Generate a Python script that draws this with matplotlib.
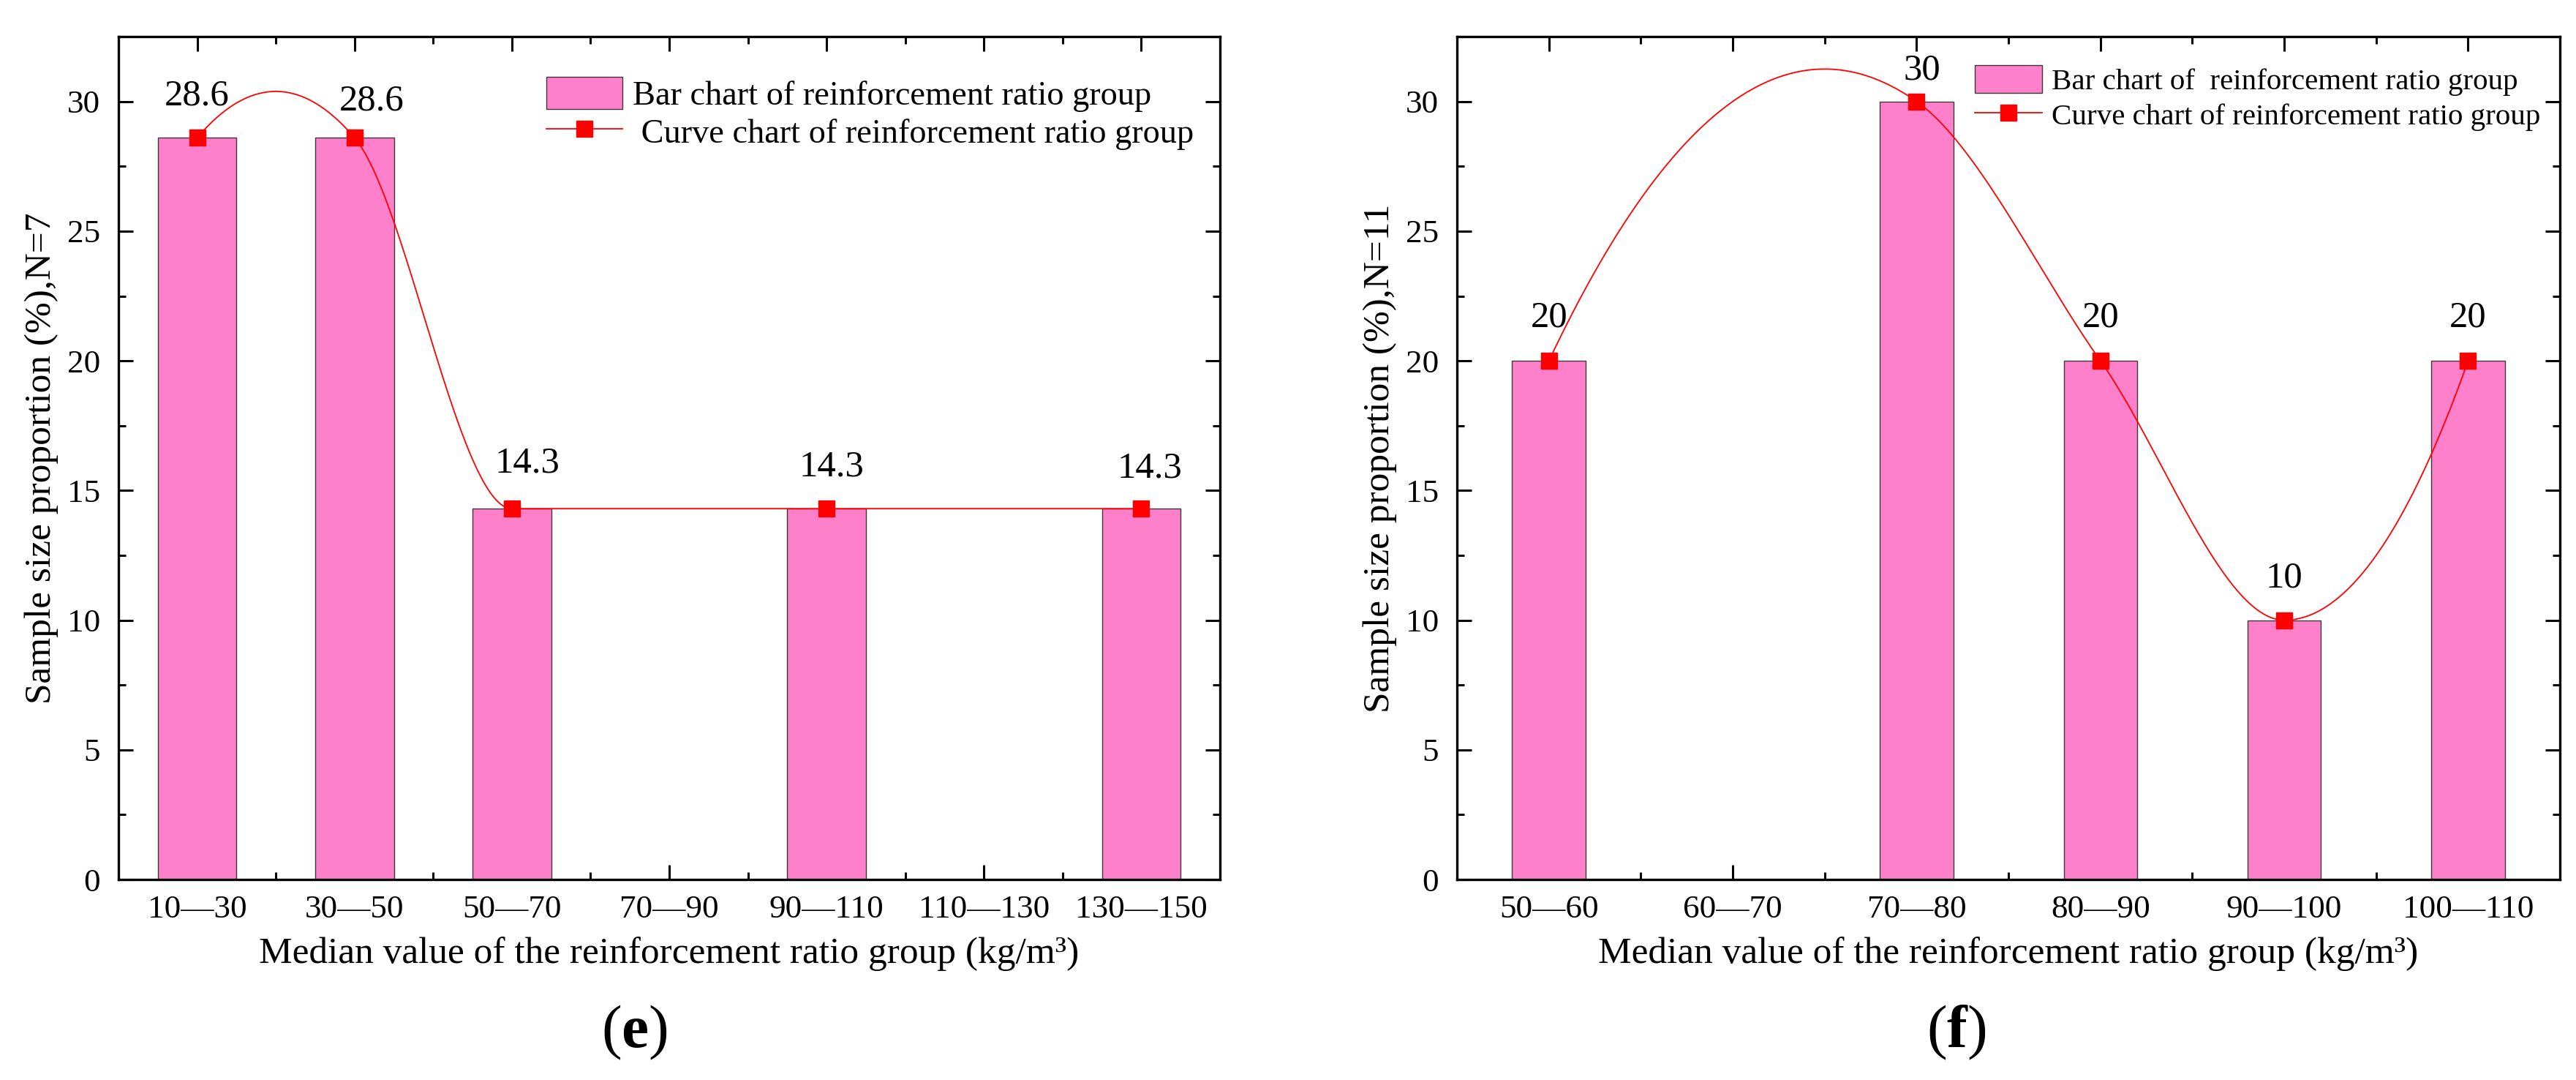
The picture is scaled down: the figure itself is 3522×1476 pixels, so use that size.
"""
Sample-size proportion per reinforcement-ratio group, panels (e) and (f).

Pink bars for each group plus a red spline through the bar tops,
saved as out.png.
"""

import numpy as np
import matplotlib
matplotlib.use("Agg")  # headless
import matplotlib.pyplot as plt
from matplotlib.ticker import MultipleLocator

# ── Data ────────────────────────────────────────────────────────────────────

E_GROUPS = ["10—30", "30—50", "50—70", "70—90", "90—110", "110—130", "130—150"]
E_VALUES = [28.6, 28.6, 14.3, np.nan, 14.3, np.nan, 14.3]   # nan = empty group
E_YLABEL = "Sample size proportion (%),N=7"
E_BAR_LEGEND = "Bar chart of reinforcement ratio group"
E_CURVE_LEGEND = " Curve chart of reinforcement ratio group"

F_GROUPS = ["50—60", "60—70", "70—80", "80—90", "90—100", "100—110"]
F_VALUES = [20, np.nan, 30, 20, 10, 20]
F_YLABEL = "Sample size proportion (%),N=11"
F_BAR_LEGEND = "Bar chart of  reinforcement ratio group"
F_CURVE_LEGEND = "Curve chart of reinforcement ratio group"

XLABEL = "Median value of the reinforcement ratio group (kg/m³)"

# ── Style ───────────────────────────────────────────────────────────────────

BAR_COLOR = "#FF80CA"
BAR_EDGE = "#3a3a3a"
CURVE_COLOR = "#FF0000"
FONT = ["Liberation Serif", "DejaVu Serif"]

TICK_SIZE = 32.5
LABEL_SIZE = 37
VALUE_SIZE = 36.5

# value-label placement relative to each point, in pixels (one per drawn bar)
E_LABEL_DX = [0, 23, 21, 7, 11]
E_LABEL_DY = [57, 50, 62, 57, 55]
F_LABEL_DX = [0, 7, 0, 0, 0]
F_LABEL_DY = [59, 42, 59, 57, 59]

plt.rcParams["font.family"] = FONT
plt.rcParams["mathtext.fontset"] = "custom"
plt.rcParams["mathtext.rm"] = "Liberation Serif"
plt.rcParams["mathtext.bf"] = "Liberation Serif:bold"


# ── Spline through the bar tops ─────────────────────────────────────────────


def node_slopes(x, y, method):
    """Slopes at the nodes for a piecewise cubic Hermite curve."""
    h = np.diff(x)
    m = np.diff(y) / h
    if method == "akima":
        mm = np.concatenate([
            [3 * m[0] - 2 * m[1], 2 * m[0] - m[1]],
            m,
            [2 * m[-1] - m[-2], 3 * m[-1] - 2 * m[-2]],
        ])
        dm = np.abs(np.diff(mm))
        w1, w2 = dm[2:], dm[:-2]
        left, right = mm[1:-2], mm[2:-1]
        wsum = w1 + w2
        safe = np.where(wsum > 0, wsum, 1.0)
        return np.where(wsum > 0, (w1 * left + w2 * right) / safe, 0.5 * (left + right))
    # three-point (Bessel) slopes
    t = np.empty_like(x)
    t[1:-1] = (h[1:] * m[:-1] + h[:-1] * m[1:]) / (h[:-1] + h[1:])
    t[0] = m[0] + (m[0] - m[1]) * h[0] / (h[0] + h[1])
    t[-1] = m[-1] + (m[-1] - m[-2]) * h[-1] / (h[-1] + h[-2])
    return t


def spline_curve(x, y, method, per_seg=120):
    x = np.asarray(x, float)
    y = np.asarray(y, float)
    t = node_slopes(x, y, method)
    xs, ys = [], []
    for i in range(len(x) - 1):
        h = x[i + 1] - x[i]
        s = np.linspace(0, 1, per_seg)
        h00 = 2 * s**3 - 3 * s**2 + 1
        h10 = s**3 - 2 * s**2 + s
        h01 = -2 * s**3 + 3 * s**2
        h11 = s**3 - s**2
        xs.append(x[i] + s * h)
        ys.append(h00 * y[i] + h10 * h * t[i] + h01 * y[i + 1] + h11 * h * t[i + 1])
    return np.concatenate(xs), np.concatenate(ys)


# ── Panel ───────────────────────────────────────────────────────────────────


def draw_panel(ax, groups, values, ylabel, bar_legend, curve_legend,
               label_dx, label_dy, bar_width, method, legend_anchor,
               legend_size, label_spacing):
    pos = np.arange(1, len(groups) + 1)
    vals = np.asarray(values, float)
    ok = ~np.isnan(vals)

    bars = ax.bar(pos[ok], vals[ok], width=bar_width, color=BAR_COLOR,
                  edgecolor=BAR_EDGE, linewidth=1.0, zorder=2)

    cx, cy = spline_curve(pos[ok], vals[ok], method)
    ax.plot(cx, cy, color=CURVE_COLOR, lw=1.3, zorder=3)
    ax.plot(pos[ok], vals[ok], ls="none", marker="s", ms=16.5,
            color=CURVE_COLOR, zorder=4)
    curve_proxy, = ax.plot([], [], color=CURVE_COLOR, lw=1.3, marker="s", ms=16.5)

    for xp, v, dx, dy in zip(pos[ok], vals[ok], label_dx, label_dy):
        ax.annotate(f"{v:g}", (xp, v), xytext=(dx, dy), textcoords="offset pixels",
                    ha="center", va="center", fontsize=VALUE_SIZE)

    ax.set_xlim(0.5, len(groups) + 0.5)
    ax.set_ylim(0, 32.5)
    ax.set_xticks(pos)
    ax.set_xticklabels(groups)
    ax.set_xticks(pos[:-1] + 0.5, minor=True)
    ax.yaxis.set_major_locator(MultipleLocator(5))
    ax.yaxis.set_minor_locator(MultipleLocator(2.5))

    ax.tick_params(which="both", direction="in", top=True, right=True,
                   width=2.2, labelsize=TICK_SIZE)
    ax.tick_params(which="major", length=14.5)
    ax.tick_params(which="minor", length=7.5)
    ax.tick_params(axis="y", pad=18)
    ax.tick_params(axis="x", pad=15)
    for sp in ax.spines.values():
        sp.set_linewidth(2.4)

    ax.set_ylabel(ylabel, fontsize=LABEL_SIZE)
    ax.yaxis.set_label_coords(-0.0545, 0.5)
    ax.set_xlabel(XLABEL, fontsize=LABEL_SIZE)
    ax.xaxis.set_label_coords(0.5, -0.0677)

    ax.legend([bars, curve_proxy], [bar_legend, curve_legend],
              loc="upper left", bbox_to_anchor=legend_anchor, frameon=False,
              fontsize=legend_size, borderpad=0, borderaxespad=0,
              handlelength=2.25, handleheight=1.07, handletextpad=0.3,
              labelspacing=label_spacing)


fig = plt.figure(figsize=(35.22, 14.76), dpi=100)
ax_e = fig.add_axes([0.0460, 0.1856, 0.4276, 0.7805])
ax_f = fig.add_axes([0.5656, 0.1856, 0.4282, 0.7805])

draw_panel(ax_e, E_GROUPS, E_VALUES, E_YLABEL, E_BAR_LEGEND, E_CURVE_LEGEND,
           E_LABEL_DX, E_LABEL_DY, bar_width=0.5, method="akima",
           legend_anchor=(0.3884, 0.952), legend_size=33.4, label_spacing=0.1)
draw_panel(ax_f, F_GROUPS, F_VALUES, F_YLABEL, F_BAR_LEGEND, F_CURVE_LEGEND,
           F_LABEL_DX, F_LABEL_DY, bar_width=0.4, method="bessel",
           legend_anchor=(0.4695, 0.9666), legend_size=29.5, label_spacing=0.15)

fig.text(867 / 3522, 1 - 1411 / 1476, r"($\mathbf{e}$)", ha="center",
         va="center", fontsize=60)
fig.text(2675 / 3522, 1 - 1411 / 1476, r"($\mathbf{f}$)", ha="center",
         va="center", fontsize=60)

fig.savefig("out.png", dpi=100)
plt.close(fig)
print("saved out.png")
